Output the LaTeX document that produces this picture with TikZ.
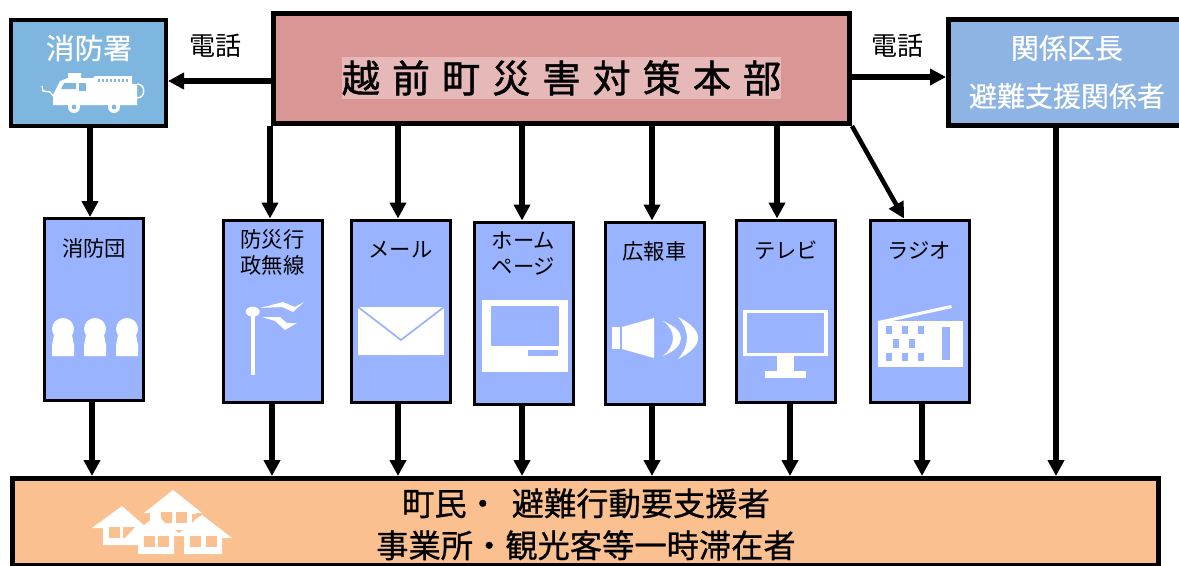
\documentclass[tikz,border=0pt]{standalone}
\usepackage{fontspec}
\setmainfont{Noto Sans CJK JP}
\newfontfamily\widefont[LetterSpace=32,FakeBold=1.2]{Noto Sans CJK JP}
\newfontfamily\heavyfont[FakeBold=0.8]{Noto Sans CJK JP}
\newfontfamily\softfont[FakeBold=0.5]{Noto Sans CJK JP}
\usetikzlibrary{arrows.meta}
\definecolor{firecol}{HTML}{7FB6E0}
\definecolor{maincol}{HTML}{D99694}
\definecolor{titlecol}{HTML}{E6B9B8}
\definecolor{zonecol}{HTML}{8EB4E3}
\definecolor{subcol}{HTML}{99B3FF}
\definecolor{townCol}{HTML}{FAC090}
\tikzset{
	pbox/.style n args={4}{draw=black,fill=#1,line width=#2*0.75pt,inner sep=0pt,minimum width=#3*0.75pt,minimum height=#4*0.75pt},
	subbox/.style={pbox={subcol}{3}{99}{182}},
	sublabel/.style={align=center,font=\fontsize{16}{19.5}\selectfont},
	whitelabel/.style={align=center,text=white,inner sep=0pt},
	link/.style={line width=4.2pt,-{Triangle[length=12pt,width=12pt]}},
	icon/.style={fill=white},
}
\begin{document}
\begin{tikzpicture}[x=0.75pt,y=-0.75pt]
		\useasboundingbox (0,0) rectangle (1179,565);

		\node[pbox={firecol}{4}{155}{106}] (fire) at (88.5,73) {};
		\node[pbox={maincol}{5}{576}{110}] (main) at (561.5,68.5) {};
		\node[pbox={zonecol}{5}{240}{106}] (zone) at (1068.5,72.5) {};
		\node[pbox={townCol}{5}{1146}{87}] (town) at (585.5,522) {};

		\foreach \nm/\xx/\yy in {dan/94/309.5,bosai/272.5/311,mail/400.5/311,home/523.5/313,car/654.5/313,tv/786/311,radio/919.5/311}
			\node[subbox] (\nm) at (\xx,\yy) {};

		\node[whitelabel,font=\fontsize{21.5}{26}\selectfont\softfont] (firetext) at (89,48) {消防署};
		\node[inner sep=0pt,fill=titlecol,minimum width=439*0.75pt,minimum height=42*0.75pt,font=\fontsize{28.5}{32}\selectfont\widefont] (title) at (561.5,78) {越前町災害対策本部};
		\node[whitelabel,font=\fontsize{21}{25}\selectfont\softfont] (zonetext1) at (1067,48) {関係区長};
		\node[whitelabel,font=\fontsize{21}{25}\selectfont\softfont] (zonetext2) at (1067,96) {避難支援関係者};
		\node[inner sep=0pt,font=\fontsize{19.5}{23}\selectfont] (tel1) at (215,46) {電話};
		\node[inner sep=0pt,font=\fontsize{19.5}{23}\selectfont] (tel2) at (897,46) {電話};

		\node[sublabel] (dantext) at (94,248) {消防団};
		\node[sublabel] (bosaitext) at (272.5,252) {防災行\\政無線};
		\node[sublabel] (mailtext) at (400.5,250) {メール};
		\node[sublabel] (hometext) at (523.5,254) {ホーム\\ページ};
		\node[sublabel] (cartext) at (654.5,251) {広報車};
		\node[sublabel] (tvtext) at (786,250) {テレビ};
		\node[sublabel] (radiotext) at (919.5,250) {ラジオ};

		\node[inner sep=0pt,font=\fontsize{24.2}{31.5}\selectfont\heavyfont,align=center] (towntext) at (586,524.5) {町民・\hspace{0.4em}避難行動要支援者\\事業所・観光客等一時滞在者};

		% connectors
		\draw[link] (fire.south -| 90,0) -- (dan.north -| 90,0);
		\foreach \nm/\xx in {bosai/270,mail/398,home/522,car/652,tv/777}
			\draw[link] (main.south -| \xx,0) -- (\nm.north -| \xx,0);
		\draw[link,line width=3.4pt] (main.south east) -- (radio.north -| 904,0);
		\draw[link] (main.west |- 0,81) -- (fire.east |- 0,81);
		\draw[link] (main.east |- 0,77) -- (zone.west |- 0,77);
		\foreach \nm/\xx in {dan/92,bosai/272,mail/398,home/522,car/652,tv/790,radio/922}
			\draw[link] (\nm.south -| \xx,0) -- (town.north -| \xx,0);
		\draw[link] (zone.south -| 1056,0) -- (town.north -| 1056,0);

		% fire engine
		\fill[icon] (53,105) -- (53,95) -- (60,81) -- (68,78) -- (68,73) -- (81,73) -- (81,78) -- (93,78) -- (95,76) -- (132,76) -- (132,84) -- (137,84) -- (137,105) -- cycle;
		\draw[white,line width=1.1pt] (137,84) .. controls (146,84) and (146,98) .. (137,98);
		\draw[white,line width=1pt] (42,86) -- (43,91) -- (50,92) -- (54,97);
		\fill[firecol] (64,83) -- (76,83) -- (76,89) -- (61,89) -- cycle;
		\fill[firecol] (79,83) -- (86,83) -- (86,91) -- (79,91) -- cycle;
		\foreach \xx in {98,102,106,110,114,118,122,126} \fill[firecol] (\xx,79) rectangle (\xx+2,82);
		\foreach \xx in {74,114} {
			\fill[icon] (\xx,107) circle (6);
			\fill[firecol] (\xx,107) circle (2.4);
		}

		% firefighters
		\foreach \xx in {63,95,127} {
			\fill[icon] (\xx,329) ellipse (11 and 11);
			\fill[icon] (\xx-9,335) -- (\xx+9,335) -- (\xx+11,345) -- (\xx+11,356) -- (\xx-11,356) -- (\xx-11,345) -- cycle;
		}

		% radio mast
		\fill[icon] (250.5,312) rectangle (255,375);
		\fill[icon] (252.7,311.7) ellipse (7 and 5);
		\fill[icon] (260,308) -- (283,302) -- (295,307) -- (304,302) -- (293,312) -- (282,307) -- cycle;
		\fill[icon] (262,317) -- (280,317) -- (287,323) -- (297,323) -- (285,330) -- (275,321) -- cycle;

		% envelope
		\fill[icon] (358,307) rectangle (444,355);
		\draw[subcol,line width=1.3pt] (358,307) -- (401,340) -- (444,307);

		% computer
		\fill[icon] (482,300) rectangle (568,372);
		\fill[subcol] (491,306) rectangle (559,346);
		\fill[subcol] (528,350) rectangle (558,356);

		% loudspeaker
		\fill[icon] (612,327) rectangle (620,349);
		\fill[icon] (622,327) -- (654,318) -- (654,358) -- (622,349) -- cycle;
		\fill[icon] (663,321) .. controls (675,326) and (681,332) .. (681,338) .. controls (681,345) and (675,351) .. (663,356) .. controls (670,350) and (673,344) .. (673,338) .. controls (673,332) and (670,326) .. (663,321) -- cycle;
		\fill[icon] (678,317) .. controls (692,324) and (698,331) .. (698,338) .. controls (698,345) and (692,352) .. (678,359) .. controls (684,352) and (687,345) .. (687,338) .. controls (687,331) and (684,324) .. (678,317) -- cycle;

		% television
		\fill[icon] (743,310) rectangle (828,356);
		\fill[subcol] (747,313) rectangle (824,353);
		\fill[icon] (777,356) rectangle (794,372);
		\fill[icon] (765,371) rectangle (806,378);

		% radio set
		\fill[icon] (878,321) rectangle (963,367);
		\fill[icon] (878,321) -- (951,305) -- (952,308) -- (888,322) -- cycle;
		\foreach \xx in {886,902,918} {
			\fill[subcol] (\xx,326) rectangle (\xx+6,334);
			\fill[subcol] (\xx,353) rectangle (\xx+6,361);
		}
		\foreach \xx in {893,909} \fill[subcol] (\xx,339) rectangle (\xx+6,348);
		\fill[subcol] (942,327) rectangle (950,360);

		% houses
		\fill[icon] (173,490) -- (202,513) -- (196,513) -- (196,536) -- (150,536) -- (150,513) -- (144,513) -- cycle;
		\fill[icon] (122,506) -- (146,527) -- (146,545) -- (103,545) -- (103,528) -- (92,528) -- cycle;
		\fill[icon] (157,515) -- (178,532) -- (174,536) -- (174,554) -- (138,554) -- (138,538) -- (128,538) -- cycle;
		\fill[icon] (202,515) -- (232,538) -- (222,538) -- (222,554) -- (184,554) -- (184,536) -- (176,532) -- cycle;
		\foreach \xx/\yy in {109/527,144/536,158/536,190/536,206/536,176/512}
			\fill[townCol] (\xx,\yy) rectangle (\xx+11,\yy+11);
		\fill[townCol] (123,527) -- (135,527) -- (125,538) -- (123,538) -- cycle;
		\fill[townCol] (161,512) -- (172,512) -- (172,523) -- (165,523) -- (161,518) -- cycle;
		\fill[townCol] (192,514) -- (200,514) -- (192,523) -- cycle;
		\fill[townCol] (175,530) -- (183,530) -- (179,533) -- cycle;
	\end{tikzpicture}
\end{document}
